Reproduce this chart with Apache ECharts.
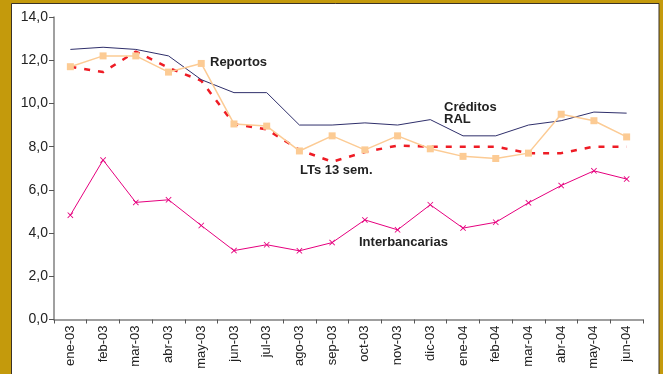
<!DOCTYPE html>
<html>
<head>
<meta charset="utf-8">
<script src="https://cdn.jsdelivr.net/npm/echarts@6/dist/echarts.min.js"></script>
<style>
  html, body { margin: 0; padding: 0; background: #C49A0C; }
  #chart { width: 663px; height: 374px; }
</style>
</head>
<body>
<div id="chart"></div>
<script>
// Monthly categories
const months = ['ene-03','feb-03','mar-03','abr-03','may-03','jun-03','jul-03','ago-03','sep-03',
  'oct-03','nov-03','dic-03','ene-04','feb-04','mar-04','abr-04','may-04','jun-04'];

// Rates (%)
const creditosRAL = [12.5, 12.6, 12.5, 12.2, 11.1, 10.5, 10.5, 9.0, 9.0, 9.1, 9.0, 9.25, 8.5, 8.5, 9.0, 9.2, 9.6, 9.55];
const reportos = [11.7, 12.2, 12.2, 11.45, 11.85, 9.05, 8.95, 7.8, 8.5, 7.85, 8.5, 7.9, 7.55, 7.45, 7.7, 9.5, 9.2, 8.45];
const lts13 = [11.7, 11.45, 12.4, 11.65, 11.05, 9.05, 8.8, 7.85, 7.3, 7.75, 8.05, 8.0, 8.0, 8.0, 7.7, 7.7, 8.0, 8.0];
const interbancarias = [4.83, 7.38, 5.42, 5.54, 4.35, 3.19, 3.46, 3.18, 3.56, 4.61, 4.15, 5.31, 4.23, 4.5, 5.4, 6.2, 6.88, 6.5];

const yTicks = { min: 0, max: 14, interval: 2 };

const crossSymbol = 'path://M0,1L1,0L5,4L9,0L10,1L6,5L10,9L9,10L5,6L1,10L0,9L4,5Z';
const labelFont = { fontFamily: 'Liberation Sans, Arial, sans-serif', fontWeight: 'bold', fontSize: 13, fill: '#222' };

const chart = echarts.init(document.getElementById('chart'));
chart.setOption({
  backgroundColor: '#C49A0C',
  animation: false,
  graphic: [
    { type: 'rect', z: -10, shape: { x: 11.5, y: 3.5, width: 647.5, height: 380 },
      style: { fill: '#ffffff', stroke: '#3a3226', lineWidth: 1 } },
    { type: 'text', left: 210, top: 56, style: Object.assign({ text: 'Reportos' }, labelFont) },
    { type: 'text', left: 444, top: 101, style: Object.assign({ text: 'Créditos\nRAL', lineHeight: 12 }, labelFont) },
    { type: 'text', left: 300, top: 164, style: Object.assign({ text: 'LTs 13 sem.' }, labelFont) },
    { type: 'text', left: 359, top: 236, style: Object.assign({ text: 'Interbancarias' }, labelFont) }
  ],
  grid: { left: 54, right: 20, top: 17, bottom: 54.5, containLabel: false },
  xAxis: {
    type: 'category',
    data: months,
    boundaryGap: true,
    axisLine: { lineStyle: { color: '#808080', width: 1.5 } },
    axisTick: { show: true, length: 4, lineStyle: { color: '#555' } },
    axisLabel: { rotate: 90, interval: 0, color: '#222', fontSize: 13,
      fontFamily: 'Liberation Sans, Arial, sans-serif', margin: 6 },
    splitLine: { show: false }
  },
  yAxis: {
    type: 'value',
    min: yTicks.min, max: yTicks.max, interval: yTicks.interval,
    axisLine: { show: true, lineStyle: { color: '#808080', width: 1.5 } },
    axisTick: { show: true, length: 5, lineStyle: { color: '#555' } },
    axisLabel: { color: '#222', fontSize: 14, fontFamily: 'Liberation Sans, Arial, sans-serif', margin: 6,
      formatter: v => v.toFixed(1).replace('.', ',') },
    splitLine: { show: false }
  },
  series: [
    { name: 'Créditos RAL', type: 'line', data: creditosRAL, showSymbol: false, symbol: 'none',
      lineStyle: { color: '#2F2F6B', width: 1 }, z: 3 },
    { name: 'LTs 13 sem.', type: 'line', data: lts13, showSymbol: false, symbol: 'none',
      lineStyle: { color: '#EE1C25', width: 2.5, type: [6, 8] }, z: 2 },
    { name: 'Reportos', type: 'line', data: reportos, symbol: 'rect', symbolSize: 7,
      itemStyle: { color: '#FCCB94' }, lineStyle: { color: '#FCCB94', width: 1.5 }, z: 4 },
    { name: 'Interbancarias', type: 'line', data: interbancarias, symbol: crossSymbol, symbolSize: 6,
      itemStyle: { color: '#E6007E' }, lineStyle: { color: '#E6007E', width: 1 }, z: 3 }
  ]
});
</script>
</body>
</html>
